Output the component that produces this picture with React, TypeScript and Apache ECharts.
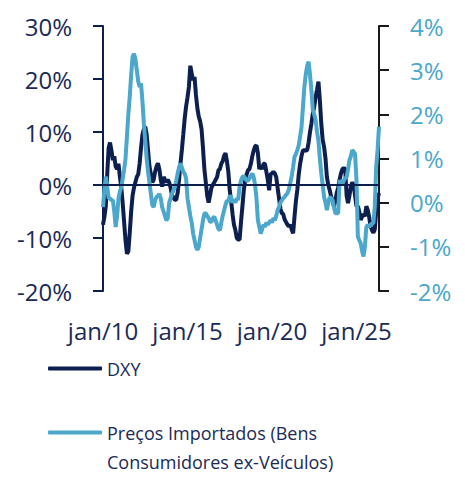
import React, { useEffect, useRef } from "react";
import * as echarts from "echarts";

const MONTHS = ["jan", "fev", "mar", "abr", "mai", "jun", "jul", "ago", "set", "out", "nov", "dez"];
const START_YEAR = 10; // jan/10
const TICK_LABELS = ["jan/10", "jan/15", "jan/20", "jan/25"];

// DXY, variação anual (%), eixo esquerdo
const dxy = [
  -7.5, -6, -4, 2, 7, 8, 6.5, 4.7, 5.4, 3.5,
  3, 4, 1.5, -0.5, -3.5, -7, -10.5, -13, -12.5, -9,
  -5, -2, -0.5, 0.5, 1.5, 2, 4, 7, 9.5, 10.5,
  11, 9.5, 6.5, 3.5, 2, 0.5, 1, 2.5, 3.5, 4.1,
  3, 1, -0.3, 1.5, 1, 0.5, 1, 0.5, -0.5, -2,
  -2.3, -2.8, -2.8, -1.5, 1, 4, 6.6, 9.5, 12.5, 14.8,
  16.5, 18.5, 22.5, 21, 19.8, 20.4, 17, 14.5, 12.9, 12,
  10.5, 7, 3, 0.5, -2, -3.3, -2, -0.5, 0, 0.5,
  1, 1.5, 2.8, 3, 4, 4.5, 5.5, 6, 4.5, 2.5,
  -1, -3, -5.5, -7.5, -8.5, -10, -10.3, -10.3, -7, -4,
  -1, 1, 2, 2.8, 3, 4, 5.4, 6.5, 7.3, 7.5,
  6, 3, 3.5, 3, 4, 4, 2.5, 1, -1, 2,
  2.2, 2.5, 2.2, 1.5, -0.5, -2.5, -4.5, -5.3, -5.5, -6.5,
  -7, -7.5, -7.8, -7.5, -8.4, -9.1, -6, -3, -0.9, 2,
  4, 5.5, 6.5, 6.6, 6.5, 6.6, 8, 10, 11.6, 13.5,
  14.8, 16.6, 18, 19.5, 16, 11.6, 8.5, 7.2, 5, 1.5,
  0, -1, -2.2, -3, -4, -3, -1.5, -0.5, 1, 2.2,
  3, 3.2, 3, -2, -3.4, -2, -0.3, 0.5, 0, -2,
  -4, -4, -5, -6.6, -6, -5.5, -5.9, -4, -4.7, -6,
  -7.8, -8.5, -9, -8.4, -5, -2.5, -1.5,
];

// Preços importados (bens de consumo ex-veículos), variação anual (%), eixo direito
const importPrices = [
  -0.1, 0.3, 0.59, 0.35, 0.1, 0.1, 0.05, 0.06, -0.2, -0.55,
  -0.3, 0.1, 0.25, 0.35, 0.55, 0.75, 1.0, 1.5, 2.0, 2.4,
  2.9, 3.3, 3.37, 3.25, 3.0, 2.75, 2.62, 2.7, 2.3, 1.8,
  1.4, 1.0, 0.7, 0.45, 0.2, -0.05, -0.1, 0.05, 0.13, 0.15,
  0.2, 0.1, -0.1, -0.2, -0.3, -0.4, -0.35, 0.0, 0.1, 0.2,
  0.28, 0.35, 0.5, 0.66, 0.8, 0.89, 0.8, 0.7, 0.66, 0.55,
  0.1, -0.1, -0.3, -0.45, -0.7, -0.85, -1.0, -1.07, -1.0, -0.8,
  -0.6, -0.4, -0.25, -0.24, -0.3, -0.35, -0.43, -0.43, -0.35, -0.32,
  -0.4, -0.5, -0.6, -0.62, -0.45, -0.3, -0.17, -0.05, 0.05, 0.02,
  0.15, 0.13, 0.0, 0.06, 0.0, 0.1, 0.06, 0.36, 0.5, 0.58,
  0.6, 0.55, 0.5, 0.5, 0.55, 0.6, 0.66, 0.58, 0.4, 0.1,
  -0.4, -0.55, -0.7, -0.6, -0.5, -0.55, -0.45, -0.5, -0.45, -0.4,
  -0.45, -0.35, -0.4, -0.3, -0.17, -0.1, 0.0, 0.05, 0.1, 0.13,
  0.18, 0.21, 0.3, 0.45, 0.6, 0.8, 1.04, 1.1, 1.19, 1.3,
  1.5, 1.72, 2.17, 2.62, 2.9, 3.1, 3.19, 2.9, 2.55, 2.1,
  2.0, 1.87, 1.6, 1.4, 1.0, 0.66, 0.4, 0.13, 0.0, -0.17,
  0.0, 0.13, 0.1, 0.06, -0.1, -0.24, -0.24, -0.24, 0.51, 0.45,
  0.43, 0.5, 0.55, 0.58, 0.75, 0.96, 1.05, 1.19, 1.15, 1.11,
  0.51, -0.77, -0.85, -0.92, -1.1, -1.22, -0.99, -0.55, -0.5, -0.55,
  -0.5, -0.47, -0.47, -0.09, 0.81, 1.2, 1.72,
];

const categories: string[] = dxy.map(
  (_, i) => `${MONTHS[i % 12]}/${String(START_YEAR + Math.floor(i / 12)).padStart(2, "0")}`
);

const NAME_DXY = "DXY";
const NAME_IMP = "Preços Importados (Bens Consumidores ex-Veículos)";
const LEGEND_LINE1 = "Preços Importados (Bens";
const LEGEND_LINE2 = "Consumidores ex-Veículos)";

const NAVY = "#0c1f4f";
const LIGHT = "#4ba7cb";
const TEXT = "#1b2a55";
const FONT = "'Open Sans', 'Noto Sans', sans-serif";

export default function App() {
  const ref = useRef<HTMLDivElement>(null);

  useEffect(() => {
    if (!ref.current) return;
    const chart = echarts.init(ref.current, undefined, { renderer: "svg" });
    chart.setOption({
      animation: false,
      backgroundColor: "#ffffff",
      textStyle: { fontFamily: FONT },
      grid: { left: 103, right: 86, top: 26, bottom: 189, containLabel: false },
      legend: {
        orient: "vertical",
        left: 48,
        top: 354,
        padding: 0,
        itemWidth: 54,
        itemHeight: 4,
        itemGap: 35,
        icon: "roundRect",
        selectedMode: false,
        data: [NAME_DXY, NAME_IMP],
        formatter: (name: string) => (name === NAME_IMP ? LEGEND_LINE1 : name),
        textStyle: { fontSize: 18, lineHeight: 29, color: TEXT, fontFamily: FONT },
      },
      graphic: [
        {
          type: "text",
          left: 107,
          top: 453,
          style: { text: LEGEND_LINE2, fontSize: 18, fill: TEXT, fontFamily: FONT },
        },
      ],
      xAxis: {
        type: "category",
        data: categories,
        boundaryGap: false,
        axisLine: { show: false },
        axisTick: { show: false },
        splitLine: { show: false },
        axisLabel: {
          interval: (_i: number, v: string) => TICK_LABELS.includes(v),
          margin: 27,
          fontSize: 24,
          color: TEXT,
          fontFamily: FONT,
        },
      },
      yAxis: [
        {
          type: "value",
          position: "left",
          min: -20,
          max: 30,
          interval: 10,
          splitLine: { show: false },
          axisLine: { show: true, lineStyle: { color: NAVY, width: 2 } },
          axisTick: { show: true, length: 10, lineStyle: { color: NAVY, width: 2 } },
          axisLabel: {
            formatter: "{value}%",
            fontSize: 24,
            margin: 31,
            color: TEXT,
            fontFamily: FONT,
            padding: [0, 0, 6, 0],
          },
        },
        {
          type: "value",
          position: "right",
          min: -2,
          max: 4,
          interval: 1,
          splitLine: { show: false },
          axisLine: { show: true, lineStyle: { color: "#1a1a1a", width: 2 } },
          axisTick: { show: true, length: 10, lineStyle: { color: "#1a1a1a", width: 2 } },
          axisLabel: {
            formatter: "{value}%",
            fontSize: 24,
            margin: 31,
            color: LIGHT,
            fontFamily: FONT,
            padding: [0, 0, 6, 0],
          },
        },
      ],
      series: [
        {
          name: NAME_DXY,
          type: "line",
          yAxisIndex: 0,
          data: dxy,
          showSymbol: false,
          symbol: "none",
          color: NAVY,
          lineStyle: { color: NAVY, width: 4 },
          markLine: {
            silent: true,
            symbol: "none",
            label: { show: false },
            lineStyle: { color: NAVY, width: 2, type: "solid" },
            data: [{ yAxis: 0 }],
          },
        },
        {
          name: NAME_IMP,
          type: "line",
          yAxisIndex: 1,
          data: importPrices,
          showSymbol: false,
          symbol: "none",
          color: LIGHT,
          lineStyle: { color: LIGHT, width: 4 },
        },
      ],
    });
    return () => chart.dispose();
  }, []);

  return (
    <div
      ref={ref}
      style={{ position: "fixed", left: 0, top: 0, width: 465, height: 480, background: "#fff" }}
    />
  );
}
